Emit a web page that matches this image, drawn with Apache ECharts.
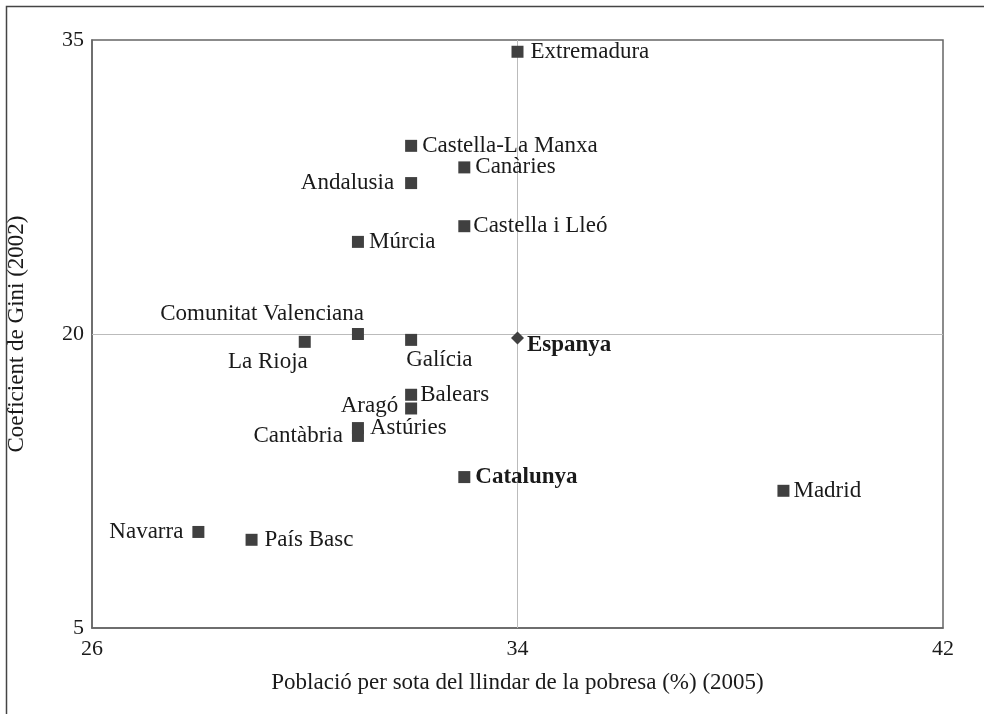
<!DOCTYPE html>
<html>
<head>
<meta charset="utf-8">
<script src="https://cdn.jsdelivr.net/npm/echarts@6/dist/echarts.min.js"></script>
<style>
html,body{margin:0;padding:0;background:#fff;}
#chart{width:984px;height:714px;}
</style>
</head>
<body>
<div id="chart"></div>
<script>
// Data
const regions = ["Extremadura","Castella-La Manxa","Canàries","Andalusia","Castella i Lleó","Múrcia",
  "Comunitat Valenciana","La Rioja","Galícia","Balears","Aragó","Astúries","Cantàbria",
  "Catalunya","Madrid","Navarra","País Basc"];
const poverty = [34.0, 32.0, 33.0, 32.0, 33.0, 31.0, 31.0, 30.0, 32.0, 32.0, 32.0, 31.0, 31.0, 33.0, 39.0, 28.0, 29.0];
const gini    = [34.4, 29.6, 28.5, 27.7, 25.5, 24.7, 20.0, 19.6, 19.7, 16.9, 16.2, 15.2, 14.8, 12.7, 12.0, 9.9, 9.5];

const spainName = "Espanya";
const spainPoverty = 34.0;
const spainGini = 19.8;

const xTicks = [26, 34, 42];
const yTicks = [5, 20, 35];
const xName = "Població per sota del llindar de la pobresa (%) (2005)";
const yName = "Coeficient de Gini (2002)";

// Label placement (style only)
const FONT = "'Liberation Serif', 'Times New Roman', serif";
const labelStyle = {
  "Extremadura": {position: 'right', distance: 7},
  "Castella-La Manxa": {position: 'right', distance: 5},
  "Canàries": {position: 'right', distance: 5},
  "Andalusia": {position: 'left', distance: 11},
  "Castella i Lleó": {position: 'right', distance: 3},
  "Múrcia": {position: 'right', distance: 5},
  "Comunitat Valenciana": {position: [12, -3], align: 'right', verticalAlign: 'bottom'},
  "La Rioja": {position: [9, 15], align: 'right', verticalAlign: 'top'},
  "Galícia": {position: [1, 15], align: 'left', verticalAlign: 'top'},
  "Balears": {position: 'right', distance: 3},
  "Aragó": {position: 'left', distance: 7, offset: [0, -3]},
  "Astúries": {position: 'right', distance: 6},
  "Cantàbria": {position: 'left', distance: 9},
  "Catalunya": {position: 'right', distance: 5, fontWeight: 'bold'},
  "Madrid": {position: 'right', distance: 4},
  "Navarra": {position: 'left', distance: 9},
  "País Basc": {position: 'right', distance: 7}
};

const textBase = {fontFamily: FONT, fontSize: 23, color: '#1a1a1a'};

const regionData = regions.map((name, i) => ({
  name: name,
  value: [poverty[i], gini[i]],
  label: Object.assign({show: true, formatter: name}, textBase, labelStyle[name])
}));

const chart = echarts.init(document.getElementById('chart'), null, {renderer: 'canvas'});

chart.setOption({
  animation: false,
  backgroundColor: '#fff',
  textStyle: textBase,
  graphic: [{
    type: 'rect', left: 4, top: 4, z: 100, silent: true,
    shape: {x: 0, y: 0, width: 1000, height: 760},
    style: {fill: 'none', stroke: '#444', lineWidth: 1.5}
  }],
  grid: {
    left: 92, top: 40, right: 41, bottom: 86,
    outerBoundsMode: 'none', containLabel: false,
    show: true, borderColor: '#666', borderWidth: 1.5, backgroundColor: 'transparent'
  },
  xAxis: {
    type: 'value', min: xTicks[0], max: xTicks[xTicks.length - 1], interval: xTicks[1] - xTicks[0],
    name: xName, nameLocation: 'middle', nameGap: 43,
    nameTextStyle: Object.assign({}, textBase),
    axisLine: {show: true, lineStyle: {color: '#666', width: 1.5}},
    axisTick: {show: false},
    splitLine: {show: false},
    axisLabel: Object.assign({}, textBase, {fontSize: 22, margin: 10})
  },
  yAxis: {
    type: 'value', min: yTicks[0], max: yTicks[yTicks.length - 1], interval: yTicks[1] - yTicks[0],
    name: yName, nameLocation: 'middle', nameGap: 64, nameRotate: 90,
    nameTextStyle: Object.assign({}, textBase),
    axisLine: {show: true, lineStyle: {color: '#666', width: 1.5}},
    axisTick: {show: false},
    splitLine: {show: false},
    axisLabel: Object.assign({}, textBase, {fontSize: 22, margin: 8})
  },
  series: [{
    type: 'scatter',
    symbol: 'rect',
    symbolSize: 12,
    itemStyle: {color: '#404040', opacity: 1},
    label: Object.assign({}, textBase),
    data: regionData,
    markLine: {
      silent: true, symbol: 'none',
      label: {show: false},
      lineStyle: {color: '#bbb', width: 1, type: 'solid', opacity: 1},
      data: [{xAxis: spainPoverty}, {yAxis: 20}],
      z: 1
    },
    z: 3
  }, {
    type: 'scatter',
    symbol: 'diamond',
    symbolSize: 13,
    itemStyle: {color: '#404040', opacity: 1},
    label: Object.assign({}, textBase, {show: true, position: 'right', distance: 3, offset: [0, 7], fontWeight: 'bold', formatter: spainName}),
    data: [{name: spainName, value: [spainPoverty, spainGini]}],
    z: 3
  }]
});
</script>
</body>
</html>
